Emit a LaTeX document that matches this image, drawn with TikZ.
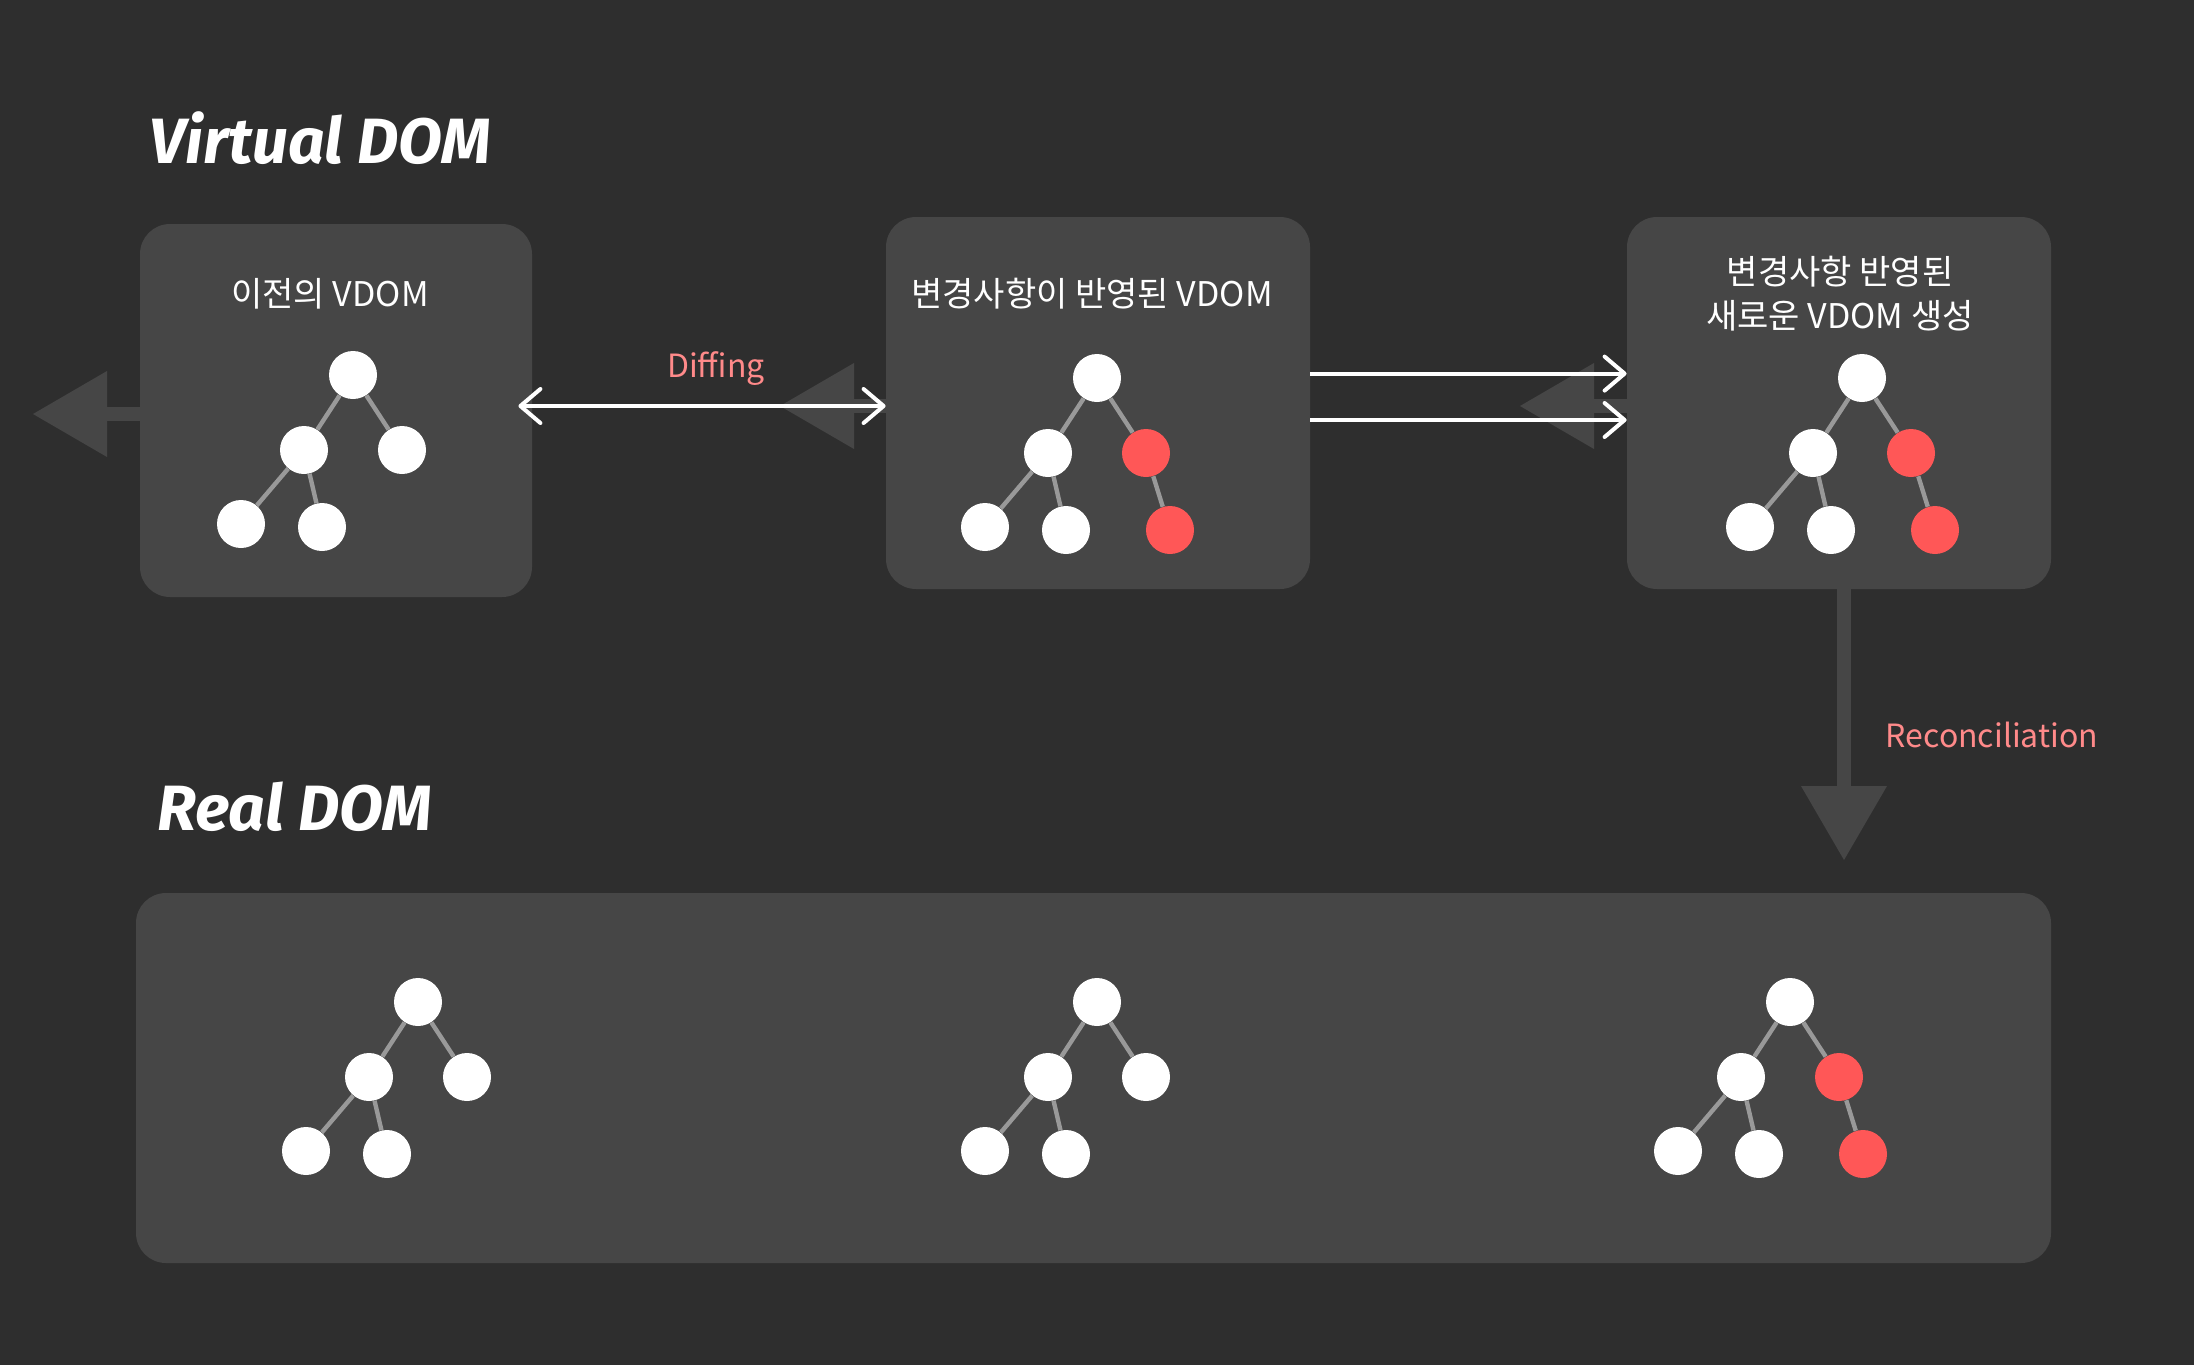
\documentclass[tikz,border=0pt]{standalone}
\usepackage{fontspec}
\setmainfont{Noto Sans CJK KR}
\newfontfamily\titlefont{Fira Sans}
\usetikzlibrary{arrows.meta}
\definecolor{bg}{HTML}{2E2E2E}
\definecolor{boxc}{HTML}{464646}
\definecolor{redn}{HTML}{FF5757}
\definecolor{edgec}{HTML}{999999}
\definecolor{lblc}{HTML}{FF8A8A}
\tikzset{wbarb/.tip={Straight Barb[length=10pt,width=17pt,round]}}
\newcommand{\mytree}[3]{%
  \begin{scope}[shift={#2}]
    \node[tn] (#1r) at (0,0) {};
    \node[tn] (#1a) at (-49,75) {};
    \node[tn,#3] (#1b) at (49,75) {};
    \node[tn] (#1c) at (-112,149) {};
    \node[tn] (#1d) at (-31,152) {};
  \end{scope}
  \draw[te] (#1r) -- (#1a);
  \draw[te] (#1r) -- (#1b);
  \draw[te] (#1a) -- (#1c);
  \draw[te] (#1a) -- (#1d);
}
\newcommand{\addrr}[2]{%
  \begin{scope}[shift={#2}]
    \node[tn,rn] (#1e) at (73,152) {};
  \end{scope}
  \draw[te] (#1b) -- (#1e);
}
\begin{document}
\begin{tikzpicture}[x=0.5pt,y=-0.5pt,
  box/.style={fill=boxc, rounded corners=15pt, inner sep=0pt},
  tn/.style={circle, fill=white, minimum size=24pt, inner sep=0pt},
  rn/.style={fill=redn},
  te/.style={draw=edgec, line width=2.2pt},
  garrow/.style={draw=boxc, line width=7pt, -{Triangle[length=37pt,width=43pt,line width=0pt]}},
  warrow/.style={draw=white, line width=2pt},
  ttl/.style={font=\titlefont\bfseries\itshape\fontsize{32pt}{38pt}\selectfont, text=white, anchor=base west, inner sep=0pt},
  btl/.style={font=\fontsize{17pt}{22pt}\selectfont, text=white, anchor=base, inner sep=0pt, align=center},
  lbl/.style={font=\fontsize{16pt}{20pt}\selectfont, text=lblc, anchor=base, inner sep=0pt},
]
\fill[bg] (0,0) rectangle (2194,1365);
\useasboundingbox (0,0) rectangle (2194,1365);

% boxes
\node[box, minimum width=196pt, minimum height=186.5pt] (b1) at (336,410.5) {};
\node[box, minimum width=212pt, minimum height=186pt] (b2) at (1098,403) {};
\node[box, minimum width=212pt, minimum height=186pt] (b3) at (1839,403) {};
\node[box, minimum width=957.5pt, minimum height=185pt] (b4) at (1093.5,1078) {};

% grey arrows
\coordinate (t1) at (33,414);
\coordinate (t2) at (780,406);
\coordinate (t3) at (1520,406);
\coordinate (t4) at (1844,860);
\draw[garrow] (b1.west |- t1) -- (t1);
\draw[garrow] (b2.west |- t2) -- (t2);
\draw[garrow] (b3.west |- t3) -- (t3);
\draw[garrow] (b3.south -| t4) -- (t4);

% trees
\mytree{p}{(353,375)}{}
\mytree{q}{(1097,378)}{rn}
\addrr{q}{(1097,378)}
\mytree{s}{(1862,378)}{rn}
\addrr{s}{(1862,378)}
\mytree{u}{(418,1002)}{}
\mytree{v}{(1097,1002)}{}
\mytree{w}{(1790,1002)}{rn}
\addrr{w}{(1790,1002)}

% white arrows
\path (b1.east |- t2) ++(-14,0) coordinate (d1);
\draw[warrow, {wbarb}-{wbarb}] (d1) -- (b2.west |- t2);
\draw[warrow, -{wbarb}] ([yshift=14.7pt]b2.east) -- ([yshift=14.7pt]b3.west);
\draw[warrow, -{wbarb}] ([yshift=-8.5pt]b2.east) -- ([yshift=-8.5pt]b3.west);

% texts
\node[ttl] (tv) at (149,163) {Virtual DOM};
\node[ttl] (tr) at (157,830) {Real DOM};
\node[btl] (h1) at (330,306) {이전의 VDOM};
\node[btl] (h2) at (1092,306) {변경사항이 반영된 VDOM};
\node[btl] (h3) at (1840,328) {변경사항 반영된\\새로운 VDOM 생성};
\node[lbl] (ld) at (716,377) {Diffing};
\node[lbl] (lr) at (1992,747) {Reconciliation};
\end{tikzpicture}
\end{document}
